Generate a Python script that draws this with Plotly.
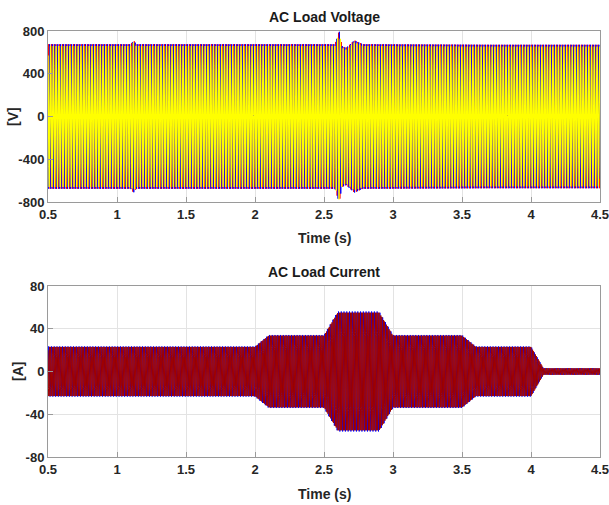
import numpy as np
import plotly.graph_objects as go

# ---- data ----
freq_hz = 50.0
t_start, t_end = 0.5, 4.5

# voltage peak envelope (time, peak V)
v_env_t = [0.5, 1.10, 1.12, 1.14, 2.0, 2.58, 2.61, 2.63, 2.66, 2.72, 2.78, 3.7, 4.5]
v_env_a = [660, 660, 695, 660, 660, 660, 785, 645, 625, 695, 660, 655, 655]
v_phase_deg = [0, -120, 120]
v_phase_scale = [1.025, 1.025, 1.0]
v_colors = ["#ff0000", "#0000ff", "#ffff00"]
v_widths = [1, 1, 1.4]

# current peak envelope (time, peak A)
i_env_t = [0.5, 2.0, 2.1, 2.5, 2.6, 2.9, 3.0, 3.5, 3.6, 4.0, 4.09, 4.5]
i_env_a = [23, 23, 33.5, 33.5, 55, 55, 33.5, 33.5, 23, 23, 3, 3]
i_phase_deg = [0, -120, 120]
i_phase_scale = [1.02, 1.0, 1.0]
i_colors = ["#0000ff", "#990000", "#a00000"]

v_ticks = [-800, -400, 0, 400, 800]
v_labels = ["-800", "-400", "0", "400", "800"]
i_ticks = [-80, -40, 0, 40, 80]
i_labels = ["-80", "-40", "0", "40", "80"]
t_ticks = [0.5, 1, 1.5, 2, 2.5, 3, 3.5, 4, 4.5]
t_labels = ["0.5", "1", "1.5", "2", "2.5", "3", "3.5", "4", "4.5"]

# ---- build waveforms ----
t = np.linspace(t_start, t_end, 16001)
v_amp = np.interp(t, v_env_t, v_env_a)
i_amp = np.interp(t, i_env_t, i_env_a)

fig = go.Figure()
for ph, sc, col, w in zip(v_phase_deg, v_phase_scale, v_colors, v_widths):
    fig.add_trace(go.Scatter(x=t, y=sc * v_amp * np.sin(2 * np.pi * freq_hz * t + np.deg2rad(ph)),
                             mode="lines", line=dict(color=col, width=w),
                             xaxis="x", yaxis="y", showlegend=False, hoverinfo="skip"))
for ph, sc, col in zip(i_phase_deg, i_phase_scale, i_colors):
    fig.add_trace(go.Scatter(x=t, y=sc * i_amp * np.sin(2 * np.pi * freq_hz * t + np.deg2rad(ph)),
                             mode="lines", line=dict(color=col, width=1),
                             xaxis="x2", yaxis="y2", showlegend=False, hoverinfo="skip"))

W, H = 609, 505
FONT = "Liberation Sans, Arial, sans-serif"
tickfont = dict(family=FONT, size=13, color="#262626", weight="bold")

def px(xp):
    return xp / W

def py(yp):
    return 1 - yp / H

axis_common = dict(showline=True, linecolor="#9a9a9a", linewidth=1, mirror=True,
                   showgrid=True, gridcolor="#e3e3e3", gridwidth=1,
                   ticks="inside", ticklen=5, tickcolor="#9a9a9a",
                   zeroline=False, tickfont=tickfont, automargin=False,
                   ticklabeloverflow="allow")

fig.update_layout(
    width=W, height=H,
    margin=dict(l=0, r=0, t=0, b=0),
    paper_bgcolor="white", plot_bgcolor="white",
    xaxis=dict(domain=[px(48), px(600)], range=[t_start, t_end], tickvals=t_ticks,
               ticktext=t_labels, anchor="y", **axis_common),
    yaxis=dict(domain=[py(202), py(31)], range=[-800, 800], tickvals=v_ticks,
               ticktext=v_labels, anchor="x", **axis_common),
    xaxis2=dict(domain=[px(48), px(600)], range=[t_start, t_end], tickvals=t_ticks,
                ticktext=t_labels, anchor="y2", **axis_common),
    yaxis2=dict(domain=[py(457), py(286)], range=[-80, 80], tickvals=i_ticks,
                ticktext=i_labels, anchor="x2", **axis_common),
)

titlefont = dict(family=FONT, size=14, color="#1a1a1a", weight="bold")
labfont = dict(family=FONT, size=14, color="#262626", weight="bold")
ann = [
    dict(text="AC Load Voltage", x=px(324), y=py(17), font=titlefont),
    dict(text="AC Load Current", x=px(324), y=py(272), font=titlefont),
    dict(text="Time (s)", x=px(324), y=py(238), font=labfont),
    dict(text="Time (s)", x=px(324), y=py(494), font=labfont),
    dict(text="[V]", x=px(13), y=py(117), font=labfont, textangle=-90),
    dict(text="[A]", x=px(18), y=py(372), font=labfont, textangle=-90),
]
for a in ann:
    fig.add_annotation(xref="paper", yref="paper", showarrow=False,
                       xanchor="center", yanchor="middle", **a)

fig.write_html("out.html",
               config={"displayModeBar": False},
               post_script="document.body.style.margin='0';document.body.style.overflow='hidden';")
